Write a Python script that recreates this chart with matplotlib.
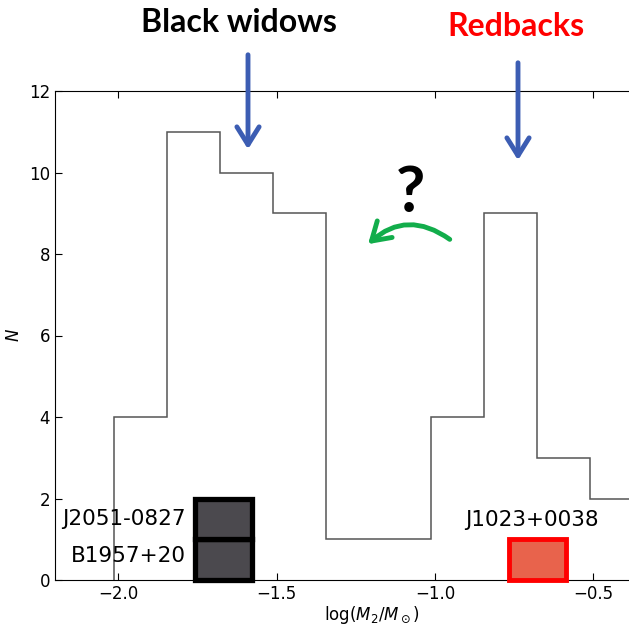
import numpy as np
import matplotlib
matplotlib.use("Agg")
import matplotlib.pyplot as plt
from matplotlib.patches import Rectangle, FancyArrowPatch

# histogram of companion masses
bin_start = -2.0126
bin_width = 0.1668
counts = [4, 11, 10, 9, 1, 1, 4, 9, 3, 2]
edges = bin_start + bin_width * np.arange(len(counts) + 1)

# highlighted systems
bw_names = ["B1957+20", "J2051-0827"]
bw_x = (-1.757, -1.578)
rb_name = "J1023+0038"
rb_x = (-0.767, -0.586)

W, H = 629, 628
fig = plt.figure(figsize=(W / 100, H / 100), dpi=100)
ax = fig.add_axes([55 / W, 48 / H, 633.4 / W, 489 / H])

ax.stairs(counts, edges, color="#555555", lw=1.1)

ax.set_xlim(-2.2, -0.2)
ax.set_ylim(0, 12)
ax.set_xticks([-2.0, -1.5, -1.0, -0.5])
ax.set_yticks([0, 2, 4, 6, 8, 10, 12])
ax.tick_params(direction="in", top=True, right=True, length=5, labelsize=12)
ax.set_xlabel(r"log$(M_2/M_\odot)$", fontsize=12, labelpad=1)
ax.set_ylabel(r"$N$", fontsize=12)
ax.yaxis.set_label_coords(-0.051, 0.5)

# boxes for individual systems
for i, name in enumerate(bw_names):
    ax.add_patch(Rectangle((bw_x[0], i), bw_x[1] - bw_x[0], 1,
                           facecolor="#4b494e", edgecolor="black", lw=3.8,
                           clip_on=False, zorder=3))
ax.text(-1.787, 0.6, bw_names[0], ha="right", va="center", fontsize=15.5)
ax.text(-1.787, 1.5, bw_names[1], ha="right", va="center", fontsize=15.5)

ax.add_patch(Rectangle((rb_x[0], 0), rb_x[1] - rb_x[0], 1,
                       facecolor="#e8634c", edgecolor="#ff0000", lw=3.5,
                       clip_on=False, zorder=3))
ax.text(-0.693, 1.47, rb_name, ha="center", va="center", fontsize=15.5)


def fx(px):
    return px / W


def fy(py):
    return 1 - py / H


fig.text(fx(239), fy(22), "Black widows", ha="center", va="center",
         fontsize=23, fontweight="bold", family="Lato")
fig.text(fx(516), fy(27), "Redbacks", ha="center", va="center",
         fontsize=23, fontweight="bold", family="Lato", color="#ff0000")
fig.text(fx(410), fy(193), "?", ha="center", va="center",
         fontsize=46, fontweight="bold", family="Lato")

blue = "#3c5db3"
for x, y0, y1 in [(248, 52, 152), (518, 60, 163)]:
    fig.patches.append(FancyArrowPatch((fx(x), fy(y0)), (fx(x), fy(y1)),
                                       transform=fig.transFigure,
                                       arrowstyle="->,head_length=8,head_width=5",
                                       color=blue, lw=3.5, mutation_scale=1.6))

fig.patches.append(FancyArrowPatch((fx(452), fy(241)), (fx(366), fy(246)),
                                   transform=fig.transFigure,
                                   connectionstyle="arc3,rad=0.42",
                                   arrowstyle="->,head_length=8,head_width=5",
                                   color="#12ad4b", lw=3.5, mutation_scale=1.6))

fig.savefig("out.png", dpi=100)
